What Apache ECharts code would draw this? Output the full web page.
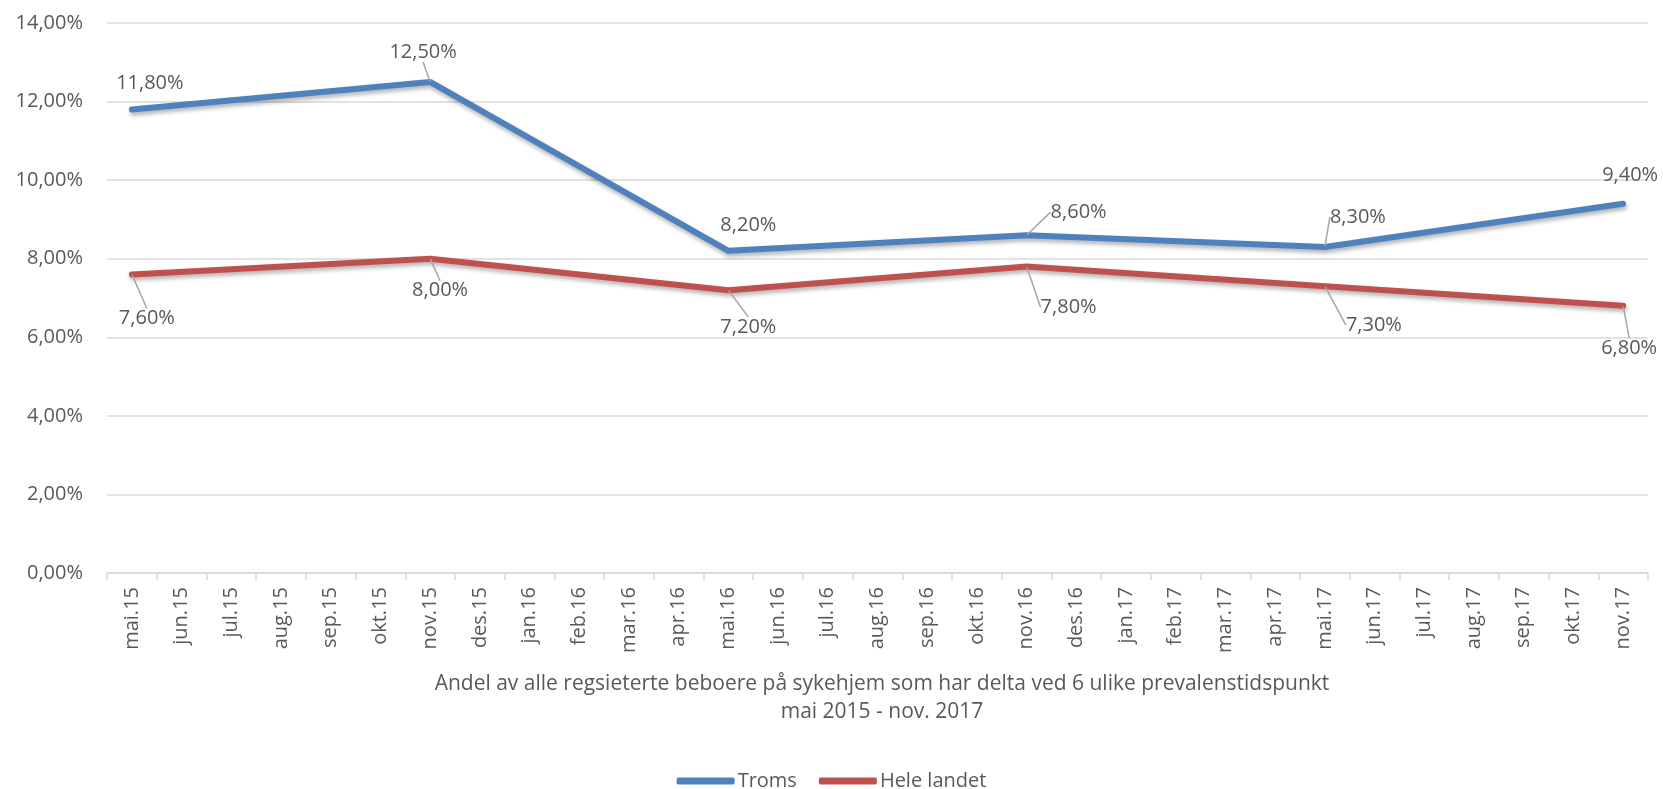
<!DOCTYPE html>
<html>
<head>
<meta charset="utf-8">
<script src="https://cdn.jsdelivr.net/npm/echarts@6/dist/echarts.min.js"></script>
<style>
  html, body { margin: 0; padding: 0; background: #fff; }
  #chart { width: 1663px; height: 789px; }
</style>
</head>
<body>
<div id="chart"></div>
<script>
// måneder på x-aksen
const months = [
  'mai.15', 'jun.15', 'jul.15', 'aug.15', 'sep.15', 'okt.15', 'nov.15', 'des.15',
  'jan.16', 'feb.16', 'mar.16', 'apr.16', 'mai.16', 'jun.16', 'jul.16', 'aug.16',
  'sep.16', 'okt.16', 'nov.16', 'des.16', 'jan.17', 'feb.17', 'mar.17', 'apr.17',
  'mai.17', 'jun.17', 'jul.17', 'aug.17', 'sep.17', 'okt.17', 'nov.17'
];

// andel i prosent, bare målt ved prevalenstidspunktene
const troms = [
  11.8, null, null, null, null, null, 12.5, null, null, null, null, null,
  8.2, null, null, null, null, null, 8.6, null, null, null, null, null,
  8.3, null, null, null, null, null, 9.4
];
const heleLandet = [
  7.6, null, null, null, null, null, 8.0, null, null, null, null, null,
  7.2, null, null, null, null, null, 7.8, null, null, null, null, null,
  7.3, null, null, null, null, null, 6.8
];

const yTicks = { min: 0, max: 14, interval: 2 };

// hvor etikettene står i forhold til punktet (dx, dy), og om de har en strek
const tromsLabels = {
  0: [18, -26, false], 6: [-7, -30, true], 12: [20, -26, false],
  18: [52, -23, true], 24: [33, -30, true], 30: [7, -28, false]
};
const landetLabels = {
  0: [15, 44, true], 6: [10, 32, true], 12: [20, 37, true],
  18: [42, 41, true], 24: [49, 39, true], 30: [6, 42, true]
};

const textColor = '#595959';
const font = 'Open Sans';

function pct(v) {
  return v.toFixed(2).replace('.', ',') + '%';
}

function makeData(values, labels) {
  return values.map(function (v, i) {
    if (v === null) return null;
    const l = labels[i];
    return { value: v, labelLine: { show: l[2] } };
  });
}

function makeSeries(name, values, labels, color) {
  return {
    name: name,
    type: 'line',
    data: makeData(values, labels),
    connectNulls: true,
    showAllSymbol: true,
    symbol: 'circle',
    symbolSize: 1,
    itemStyle: { color: color },
    lineStyle: {
      width: 6,
      color: color,
      cap: 'round',
      join: 'round',
      shadowColor: 'rgba(0,0,0,0.3)',
      shadowBlur: 4,
      shadowOffsetX: 1,
      shadowOffsetY: 3
    },
    label: {
      show: true,
      position: 'inside',
      align: 'center',
      verticalAlign: 'middle',
      color: textColor,
      fontFamily: font,
      fontSize: 20,
      formatter: function (p) { return pct(p.value); }
    },
    labelLine: {
      show: true,
      lineStyle: { color: '#a6a6a6', width: 1.5 }
    },
    labelLayout: function (p) {
      const l = labels[p.dataIndex];
      if (!l) return {};
      return { dx: l[0], dy: l[1] };
    },
    emphasis: { disabled: true }
  };
}

const chart = echarts.init(document.getElementById('chart'));

const option = {
  animation: false,
  backgroundColor: '#fff',
  textStyle: { fontFamily: font },
  title: {
    text: 'Andel av alle regsieterte beboere på sykehjem som har delta ved 6 ulike prevalenstidspunkt\nmai 2015 - nov. 2017',
    left: 877,
    top: 665,
    textAlign: 'center',
    textStyle: {
      fontFamily: font,
      fontSize: 21,
      fontWeight: 'normal',
      color: textColor,
      lineHeight: 28
    }
  },
  legend: {
    top: 766,
    left: 'center',
    icon: 'roundRect',
    itemWidth: 58,
    itemHeight: 7,
    itemGap: 22,
    data: ['Troms', 'Hele landet'],
    textStyle: {
      fontFamily: font,
      fontSize: 20,
      color: textColor,
      padding: [0, 0, 0, -2]
    }
  },
  grid: {
    left: 107,
    right: 15,
    top: 23,
    bottom: 216
  },
  xAxis: {
    type: 'category',
    data: months,
    boundaryGap: true,
    axisLine: { lineStyle: { color: '#d9d9d9', width: 1.5 } },
    axisTick: { show: true, length: 7, lineStyle: { color: '#d9d9d9', width: 1.5 } },
    axisLabel: {
      rotate: 90,
      interval: 0,
      margin: 14,
      color: textColor,
      fontFamily: font,
      fontSize: 20
    },
    splitLine: { show: false }
  },
  yAxis: {
    type: 'value',
    min: yTicks.min,
    max: yTicks.max,
    interval: yTicks.interval,
    axisLine: { show: false },
    axisTick: { show: false },
    axisLabel: {
      margin: 24,
      color: textColor,
      fontFamily: font,
      fontSize: 20,
      formatter: function (v) { return pct(v); }
    },
    splitLine: { lineStyle: { color: '#d9d9d9', width: 1.5 } }
  },
  series: [
    makeSeries('Troms', troms, tromsLabels, '#4F81BD'),
    makeSeries('Hele landet', heleLandet, landetLabels, '#C0504D')
  ]
};

option && chart.setOption(option);
</script>
</body>
</html>
